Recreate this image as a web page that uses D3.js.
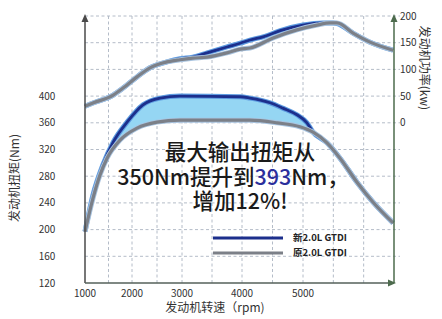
<!DOCTYPE html>
<html>
<head>
<meta charset="utf-8">
<script src="https://cdn.jsdelivr.net/npm/d3@7"></script>
<style>
  body { margin: 0; background: #fff; }
  svg text { font-family: "Noto Sans CJK SC", "Noto Sans", sans-serif; }
</style>
</head>
<body>
<div id="chart"></div>
<script>
// torque curves (rpm, Nm)
var torqueOld = [[1000,197],[1170,247],[1320,282],[1470,307],[1745,334],[2100,352],[2500,361],[2960,364],[3970,364],[4130,364],[4575,360],[4950,354],[5165,346],[5395,330],[5610,307],[5890,271],[6155,241],[6485,210]];
var torqueNew = [[1000,197],[1170,252],[1380,297],[1600,331],[1895,361],[2220,387],[2560,397],[2960,400],[3970,399],[4130,397],[4460,390],[4670,382],[4900,372],[5065,360],[5165,346],[5395,330],[5610,307],[5890,271],[6155,241],[6485,210]];

// power curves (rpm, kW)
var powerOld = [[1000,31],[1170,37],[1600,52],[1810,65],[2100,86],[2360,103],[2700,114],[2960,118],[3180,121],[3420,123],[3750,131],[3970,138],[4130,140],[4510,159],[4900,174],[5230,183],[5445,187],[5560,187],[5825,168],[6105,151],[6485,136]];
var powerNew = [[1000,31],[1170,37],[1600,52],[1810,65],[2100,86],[2360,103],[2700,114],[2960,120],[3180,123],[3420,131],[3750,142],[3970,149],[4130,155],[4345,161],[4670,174],[5000,183],[5330,187],[5495,187],[5560,186],[5825,168],[6105,151],[6485,136]];

var rpmTicks = [1000, 2000, 3000, 4000, 5000];
var rpmGrid = [1500, 2000, 2500, 3000, 3500, 4000, 4500, 5000, 5500, 6000];
var torqueTicks = [120, 160, 200, 240, 280, 320, 360, 400];
var torqueGrid = [160, 200, 240, 280, 320, 360, 400, 440, 480, 520];
var powerTicks = [0, 50, 100, 150, 200];
var legendNames = ["新2.0L GTDI", "原2.0L GTDI"];

var W = 442, H = 319;
var plotL = 85, plotR = 394, plotT = 16, plotB = 283;

// the original axis is not evenly spaced, so use a piecewise scale
var x = d3.scaleLinear()
    .domain([1000, 2000, 3000, 4000, 5000, 6500])
    .range([85, 132, 182, 242, 303, 394]);
var yT = d3.scaleLinear().domain([120, 520]).range([plotB, plotT]);
var yP = d3.scaleLinear().domain([0, 200]).range([yT(360), yT(520)]);

var svg = d3.select("#chart").append("svg")
    .attr("width", W).attr("height", H);

// grid
var grid = svg.append("g")
    .attr("stroke", "#b4bcc8").attr("stroke-width", 1)
    .attr("stroke-dasharray", "3,2.5");
grid.selectAll(".v").data(rpmGrid).enter().append("line")
    .attr("x1", function(d){ return x(d); }).attr("x2", function(d){ return x(d); })
    .attr("y1", plotT).attr("y2", plotB);
grid.selectAll(".h").data(torqueGrid).enter().append("line")
    .attr("x1", plotL).attr("x2", plotR + 6)
    .attr("y1", function(d){ return yT(d); }).attr("y2", function(d){ return yT(d); });

var tLine = function(s) {
    return d3.line().curve(d3.curveMonotoneX)
        .x(function(d){ return x(d[0]); })
        .y(function(d){ return s(d[1]); });
};

// fill between new and old torque
var defs = svg.append("defs");
defs.append("clipPath").attr("id", "aboveOld").append("path")
    .attr("d", d3.area().curve(d3.curveMonotoneX)
        .x(function(d){ return x(d[0]); })
        .y0(0)
        .y1(function(d){ return yT(d[1]); })(torqueOld));
svg.append("path")
    .attr("clip-path", "url(#aboveOld)")
    .attr("fill", "#95d6f3")
    .attr("d", d3.area().curve(d3.curveMonotoneX)
        .x(function(d){ return x(d[0]); })
        .y0(plotB)
        .y1(function(d){ return yT(d[1]); })(torqueNew));

// curves
function drawOld(data, s) {
    svg.append("path").datum(data)
        .attr("fill", "none").attr("stroke", "#a9c4e0").attr("stroke-width", 5)
        .attr("d", tLine(s));
    svg.append("path").datum(data)
        .attr("fill", "none").attr("stroke", "#7c8088").attr("stroke-width", 3.2)
        .attr("d", tLine(s));
}
function drawNew(data, s) {
    svg.append("path").datum(data)
        .attr("fill", "none").attr("stroke", "#5d9be0").attr("stroke-width", 5)
        .attr("d", tLine(s));
    svg.append("path").datum(data)
        .attr("fill", "none").attr("stroke", "#1c2f8c").attr("stroke-width", 2.8)
        .attr("d", tLine(s));
}
drawNew(powerNew, yP);
drawOld(powerOld, yP);
drawNew(torqueNew, yT);
drawOld(torqueOld, yT);

// axes
svg.append("line").attr("x1", plotL).attr("x2", plotL).attr("y1", plotB).attr("y2", plotT + 4)
    .attr("stroke", "#4a4a4a").attr("stroke-width", 1.5);
svg.append("path").attr("d", "M" + plotL + "," + (plotT - 2) + "l-3.5,8h7z").attr("fill", "#4a4a4a");
svg.append("line").attr("x1", plotL).attr("x2", plotR).attr("y1", plotB).attr("y2", plotB)
    .attr("stroke", "#55605a").attr("stroke-width", 1.5);
svg.append("path").attr("d", "M" + (plotR + 2) + "," + plotB + "l-8,-3.5v7z").attr("fill", "#4d6b4d");
svg.append("line").attr("x1", plotR).attr("x2", plotR).attr("y1", plotB).attr("y2", plotT + 4)
    .attr("stroke", "#4d6b4d").attr("stroke-width", 1.5);
svg.append("path").attr("d", "M" + plotR + "," + (plotT - 2) + "l-3.5,8h7z").attr("fill", "#4d6b4d");

// tick labels
svg.append("g").selectAll("text").data(rpmTicks).enter().append("text")
    .attr("x", function(d){ return x(d); }).attr("y", 297)
    .attr("text-anchor", "middle").attr("font-size", 10).attr("fill", "#333")
    .text(function(d){ return d; });
svg.append("g").selectAll("text").data(torqueTicks).enter().append("text")
    .attr("x", 47).attr("y", function(d){ return yT(d); }).attr("dy", "0.35em")
    .attr("text-anchor", "middle").attr("font-size", 10).attr("fill", "#333")
    .text(function(d){ return d; });
svg.append("g").selectAll("text").data(powerTicks).enter().append("text")
    .attr("x", 400).attr("y", function(d){ return yP(d); }).attr("dy", "0.35em")
    .attr("font-size", 10).attr("fill", "#333")
    .text(function(d){ return d; });

// axis titles
svg.append("text").attr("x", 215).attr("y", 312).attr("text-anchor", "middle")
    .attr("font-size", 12).attr("fill", "#333").text("发动机转速（rpm)");
svg.append("text").attr("transform", "translate(19,178) rotate(-90)").attr("text-anchor", "middle")
    .attr("font-size", 12).attr("fill", "#333").text("发动机扭矩(Nm)");
svg.append("text").attr("transform", "translate(420,68) rotate(90)").attr("text-anchor", "middle")
    .attr("font-size", 12).attr("fill", "#333").text("发动机功率(kw)");

// headline
var big = svg.append("g").attr("font-size", 21.5).attr("fill", "#1a1a1a").attr("font-weight", 500)
    .attr("text-anchor", "middle");
big.append("text").attr("x", 240).attr("y", 160).text("最大输出扭矩从");
var l2 = big.append("text").attr("x", 233).attr("y", 185);
l2.append("tspan").text("350Nm提升到");
l2.append("tspan").attr("fill", "#2b2f9c").text("393");
l2.append("tspan").text("Nm，");
big.append("text").attr("x", 240).attr("y", 209).text("增加12%!");

// legend
var legColors = ["#1c2f8c", "#7c8088"];
var leg = svg.append("g");
legendNames.forEach(function(name, i) {
    var yy = 238 + i * 15;
    leg.append("line").attr("x1", 213).attr("x2", 283).attr("y1", yy).attr("y2", yy)
        .attr("stroke", legColors[i]).attr("stroke-width", 3);
    leg.append("text").attr("x", 293).attr("y", yy).attr("dy", "0.35em")
        .attr("font-size", 9.5).attr("font-weight", "bold").attr("fill", "#222")
        .text(name);
});
</script>
</body>
</html>
